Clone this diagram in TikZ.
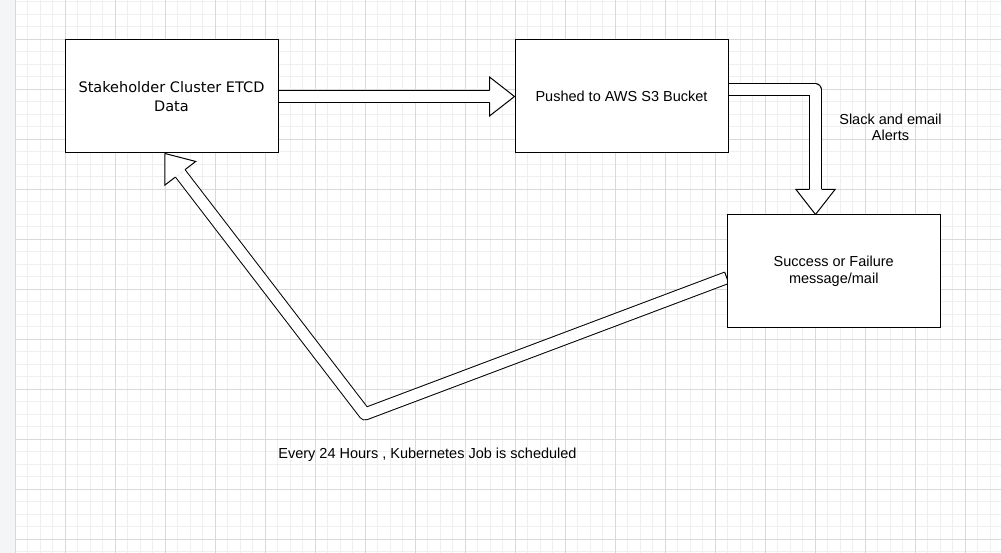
\documentclass[tikz,border=0pt]{standalone}
\usepackage{fontspec}
\setmainfont{Liberation Sans}
\newfontfamily\verdfont{DejaVu Sans}
\usetikzlibrary{calc}
\definecolor{minorgrid}{HTML}{EFEFEF}
\definecolor{majorgrid}{HTML}{D9D9D9}
\definecolor{stripbg}{HTML}{F4F5F7}
\pgfdeclarelayer{gridlayer}
\pgfdeclarelayer{arrowlayer}
\pgfsetlayers{gridlayer,arrowlayer,main}
\tikzset{
  box/.style={draw=black, fill=white, line width=1pt, minimum width=213pt, minimum height=113pt,
    inner sep=0pt, align=center, font=\fontsize{14.5}{16.7}\selectfont},
  flexshaft/.style={draw=black, line width=1pt, double=white, double distance=11pt, line join=round},
  flexhead/.style={draw=black, line width=1pt, line join=miter},
  lbl/.style={inner sep=0pt, align=center, font=\fontsize{14.5}{16.7}\selectfont},
  gridminor/.style={draw=minorgrid, line width=1pt},
  gridmajor/.style={draw=majorgrid, line width=1pt},
}
\newcommand\fxhead[2]{%
  \fill[white] ($(#1)!19.5pt!90:(#2)$) -- (#2) -- ($(#1)!19.5pt!-90:(#2)$) -- cycle;
  \draw[flexhead] ($(#1)!6pt!90:(#2)$) -- ($(#1)!19.5pt!90:(#2)$) -- (#2) -- ($(#1)!19.5pt!-90:(#2)$) -- ($(#1)!6pt!-90:(#2)$);
}
\begin{document}
\begin{tikzpicture}[x=1pt,y=-1pt]
\useasboundingbox (0,0) rectangle (1001,553);
\begin{pgfonlayer}{gridlayer}
  \fill[white] (0,0) rectangle (1001,553);
  \fill[stripbg] (0,0) rectangle (15,553);
  \foreach \i in {0,...,78} \draw[gridminor] ({15+12.5*\i},0) -- ({15+12.5*\i},553);
  \foreach \j in {0,...,44} \draw[gridminor] (15,{1.8+12.5*\j}) -- (1001,{1.8+12.5*\j});
  \foreach \i in {0,...,19} \draw[gridmajor] ({15+50*\i},0) -- ({15+50*\i},553);
  \foreach \j in {0,...,10} \draw[gridmajor] (15,{39.3+50*\j}) -- (1001,{39.3+50*\j});
\end{pgfonlayer}

\node[box, font=\verdfont\fontsize{14.5}{18.4}\selectfont] (etcd) at (171.5,96.5) {Stakeholder Cluster ETCD\\Data};
\node[box] (s3) at (621.5,96.5) {Pushed to AWS S3 Bucket};
\node[box, minimum height=112.5pt] (msg) at (833.75,271.25) {Success or Failure\\message/mail};

\node[lbl] (alerts) at (890.5,127.4) {Slack and email\\Alerts};
\node[lbl, anchor=base] (sched) at (427.5,458.3) {Every 24 Hours , Kubernetes Job is scheduled};

\begin{pgfonlayer}{arrowlayer}
  % etcd -> s3
  \coordinate (a1s) at (etcd.east);
  \coordinate (a1t) at (s3.west);
  \coordinate (a1b) at ($(a1t)!25pt!(a1s)$);
  \draw[flexshaft] (a1s) -- (a1b);
  \fxhead{a1b}{a1t}
  % s3 -> msg
  \coordinate (a2s) at ([yshift=6.5pt]s3.east);
  \coordinate (a2t) at ([xshift=-18.25pt]msg.north);
  \coordinate (a2c) at (a2t |- a2s);
  \coordinate (a2b) at ($(a2t)!25pt!(a2c)$);
  \draw[flexshaft] (a2s) -- (a2c) -- (a2b);
  \fxhead{a2b}{a2t}
  % msg -> etcd
  \coordinate (a3s) at ([yshift=-6.5pt]msg.west);
  \coordinate (a3c) at (365,414);
  \coordinate (a3t) at ([xshift=-6.5pt]etcd.south);
  \coordinate (a3b) at ($(a3t)!25pt!(a3c)$);
  \draw[flexshaft] (a3s) -- (a3c) -- (a3b);
  \draw[line width=1pt] ($(a3s)!6pt!90:(a3c)$) -- ($(a3s)!6pt!-90:(a3c)$);
  \fxhead{a3b}{a3t}
\end{pgfonlayer}
\end{tikzpicture}
\end{document}
